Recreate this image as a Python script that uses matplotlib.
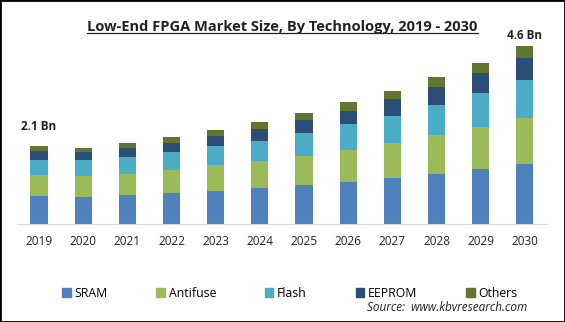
import matplotlib
matplotlib.use("Agg")
import matplotlib.pyplot as plt
from matplotlib.patches import Rectangle, Patch
import numpy as np

years = ['2019', '2020', '2021', '2022', '2023', '2024', '2025', '2026', '2027', '2028', '2029', '2030']
sram = [0.73, 0.70, 0.76, 0.81, 0.87, 0.94, 1.02, 1.10, 1.20, 1.31, 1.44, 1.56]
antifuse = [0.55, 0.55, 0.55, 0.59, 0.65, 0.70, 0.75, 0.83, 0.91, 0.99, 1.07, 1.20]
flash = [0.39, 0.40, 0.42, 0.48, 0.49, 0.52, 0.60, 0.65, 0.70, 0.78, 0.88, 0.96]
eeprom = [0.23, 0.21, 0.25, 0.23, 0.28, 0.30, 0.33, 0.36, 0.42, 0.47, 0.52, 0.57]
others = [0.13, 0.12, 0.13, 0.15, 0.16, 0.18, 0.18, 0.21, 0.23, 0.26, 0.26, 0.32]
series_names = ['SRAM', 'Antifuse', 'Flash', 'EEPROM', 'Others']
colors = ['#4f81bd', '#9bbb59', '#4bacc6', '#2c4d75', '#5f7530']
end_labels = {0: '2.1 Bn', 11: '4.6 Bn'}

plt.rcParams['font.family'] = ['Open Sans', 'DejaVu Sans']

fig = plt.figure(figsize=(5.65, 3.22), dpi=100)
ax = fig.add_axes([0.030, 0.304, 0.938, 0.572])

x = np.arange(len(years))
bottom = np.zeros(len(years))
for vals, name, c in zip([sram, antifuse, flash, eeprom, others], series_names, colors):
  ax.bar(x, vals, width=0.39, bottom=bottom, color=c, label=name)
  bottom = bottom + np.array(vals)

# label gap above the bar top (first label sits higher in the original)
gaps = {0: 0.5, 11: 0.27}
for i, txt in end_labels.items():
  ax.text(x[i], bottom[i] + gaps[i], txt, ha='center', va='center',
          fontsize=8.5, fontweight='bold', color='#222222')

ax.set_xlim(-0.5, 11.5)
ax.set_ylim(0, 4.77)
ax.set_xticks(x)
ax.set_xticklabels(years, fontsize=8.5, color='#222222')
ax.tick_params(axis='x', length=0, pad=8)
ax.set_yticks([])
for s in ['top', 'right', 'left']:
  ax.spines[s].set_visible(False)
ax.spines['bottom'].set_color('#d9d9d9')

fig.text(0.5, 0.915, 'Low-End FPGA Market Size, By Technology, 2019 - 2030',
         ha='center', va='center', fontsize=10.5, fontweight='bold',
         color='#222222')
# underline for the title
t = fig.texts[-1]
fig.canvas.draw()
bb = t.get_window_extent().transformed(fig.transFigure.inverted())
fig.add_artist(plt.Line2D([bb.x0, bb.x1], [bb.y0 + 0.005, bb.y0 + 0.005],
                          color='#222222', lw=0.9, transform=fig.transFigure))

handles = [Patch(color=c) for c in colors]
fig.legend(handles, series_names, loc='center', bbox_to_anchor=(0.513, 0.09),
           ncol=5, frameon=False, fontsize=8.8, handlelength=0.7,
           handleheight=0.7, handletextpad=0.3, columnspacing=4.0)

fig.text(0.933, 0.025, 'Source:  www.kbvresearch.com', ha='right', va='bottom',
         fontsize=8.5, style='italic', color='#222222')

fig.add_artist(Rectangle((0, 0), 1, 1, transform=fig.transFigure, fill=False,
                         edgecolor='black', lw=2))

fig.savefig('out.png', dpi=100)
